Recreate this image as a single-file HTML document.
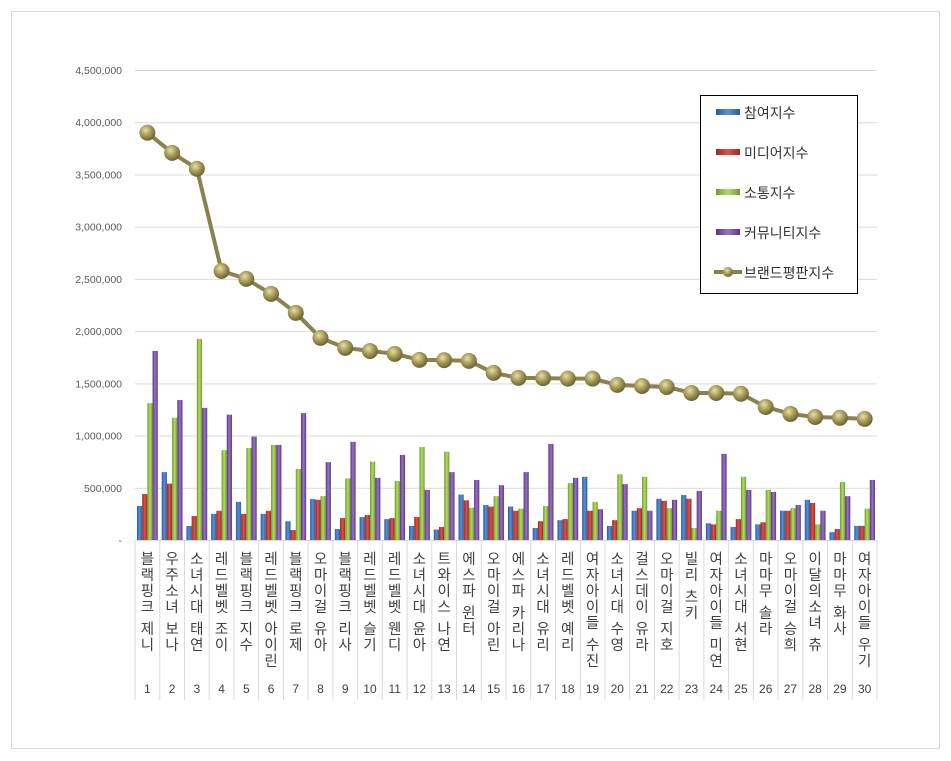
<!DOCTYPE html>
<html><head><meta charset="utf-8"><style>
body{margin:0;background:#fff;}
svg{display:block;font-family:"Liberation Sans","Noto Sans CJK KR",sans-serif;}
</style></head><body>
<svg id="chart" width="951" height="761">
<defs>
<radialGradient id="mk" cx="40%" cy="35%" r="65%"><stop offset="0" stop-color="#e6dfa8"/><stop offset="0.5" stop-color="#a89e5c"/><stop offset="1" stop-color="#6b6335"/></radialGradient>
<linearGradient id="gb" x1="0" x2="1"><stop offset="0" stop-color="#2b5b9c"/><stop offset=".5" stop-color="#5b8fd3"/><stop offset="1" stop-color="#2b5b9c"/></linearGradient>
<linearGradient id="gr" x1="0" x2="1"><stop offset="0" stop-color="#9c2a24"/><stop offset=".5" stop-color="#d9534c"/><stop offset="1" stop-color="#9c2a24"/></linearGradient>
<linearGradient id="gg" x1="0" x2="1"><stop offset="0" stop-color="#6c9a2c"/><stop offset=".5" stop-color="#b4dc64"/><stop offset="1" stop-color="#6c9a2c"/></linearGradient>
<linearGradient id="gp" x1="0" x2="1"><stop offset="0" stop-color="#593880"/><stop offset=".5" stop-color="#9a72c4"/><stop offset="1" stop-color="#593880"/></linearGradient>
</defs>
<rect x="11.5" y="11.5" width="928" height="737" fill="#fff" stroke="#d9d9d9"/>
<g id="grid"></g><g id="bars"></g><g id="line"></g><g id="xlab"></g>
<g>
<rect x="700.5" y="95.5" width="157" height="198" fill="#fff" stroke="#000"/>
<rect x="716" y="109" width="24" height="6" fill="url(#gb)"/><text x="744" y="118" font-size="14" fill="#333">참여지수</text>
<rect x="716" y="149" width="24" height="6" fill="url(#gr)"/><text x="744" y="158" font-size="14" fill="#333">미디어지수</text>
<rect x="716" y="189" width="24" height="6" fill="url(#gg)"/><text x="744" y="198" font-size="14" fill="#333">소통지수</text>
<rect x="716" y="229" width="24" height="6" fill="url(#gp)"/><text x="744" y="238" font-size="14" fill="#333">커뮤니티지수</text>
<line x1="714" y1="272" x2="742" y2="272" stroke="#8a8150" stroke-width="4"/><circle cx="728" cy="272" r="5" fill="url(#mk)"/><text x="744" y="278" font-size="14" fill="#333">브랜드평판지수</text>
</g>
</svg>
<script>
const categories=["블랙핑크 제니","우주소녀 보나","소녀시대 태연","레드벨벳 조이","블랙핑크 지수","레드벨벳 아이린","블랙핑크 로제","오마이걸 유아","블랙핑크 리사","레드벨벳 슬기","레드벨벳 웬디","소녀시대 윤아","트와이스 나연","에스파 윈터","오마이걸 아린","에스파 카리나","소녀시대 유리","레드벨벳 예리","여자아이들 수진","소녀시대 수영","걸스데이 유라","오마이걸 지호","빌리 츠키","여자아이들 미연","소녀시대 서현","마마무 솔라","오마이걸 승희","이달의소녀 츄","마마무 화사","여자아이들 우기"];
const participation=[326,650,134,250,365,250,180,393,105,220,200,135,100,435,335,320,115,190,605,135,280,395,430,160,125,150,280,385,75,135];
const media=[440,540,230,280,250,280,95,385,210,240,210,220,125,380,320,280,180,200,280,190,305,375,395,150,200,170,280,355,105,135];
const communication=[1310,1170,1925,860,880,910,680,420,590,750,565,890,845,310,420,300,325,545,365,630,605,305,115,280,605,480,305,150,555,300];
const community=[1810,1340,1265,1200,990,910,1215,745,940,595,815,480,650,575,525,650,920,595,295,535,280,385,470,825,480,460,335,280,420,575];
const brandIndex=[3900,3707,3555,2577,2500,2357,2175,1935,1840,1810,1782,1725,1722,1715,1600,1552,1550,1545,1545,1485,1475,1465,1408,1408,1400,1274,1207,1178,1170,1160];
const yTicks=[0,500,1000,1500,2000,2500,3000,3500,4000,4500];
const yTickLabels=["-","500,000","1,000,000","1,500,000","2,000,000","2,500,000","3,000,000","3,500,000","4,000,000","4,500,000"];

const NS="http://www.w3.org/2000/svg";
const X0=135,X1=877,Y0=540,Ymax=4500,YTop=70;
const bw=(X1-X0)/categories.length;
function y(v){return Y0-(v/Ymax)*(Y0-YTop);}
function xc(i){return X0+bw*(i+0.5);}
function mk(tag,attrs,parent){const e=document.createElementNS(NS,tag);for(const k in attrs)e.setAttribute(k,attrs[k]);parent.appendChild(e);return e;}
const grid=document.getElementById('grid');
yTicks.forEach((t,i)=>{
  if(t>0){const l=mk('line',{x1:X0,x2:X1,y1:y(t)+.5,y2:y(t)+.5,stroke:'#d9d9d9'},grid);
  
  }
  const tx=mk('text',{x:122,y:y(t)+4,'text-anchor':'end','font-size':'10.5',fill:'#595959'},grid);
  tx.textContent=yTickLabels[i];
  
  
});
const ax=mk('line',{x1:X0,x2:X1,y1:Y0+.5,y2:Y0+.5,stroke:'#d9d9d9'},grid);


const bars=document.getElementById('bars');
const series=[[participation,'url(#gb)','participation'],[media,'url(#gr)','media'],[communication,'url(#gg)','communication'],[community,'url(#gp)','community']];
const w=5.2;
categories.forEach((c,i)=>{
  series.forEach((s,j)=>{
    const v=s[0][i];const x=xc(i)-2*w+j*w;
    const r=mk('rect',{x:x,y:y(v),width:w,height:Y0-y(v),fill:s[1]},bars);
    
    
  });
});
const lg=document.getElementById('line');
const pts=brandIndex.map((v,i)=>xc(i)+','+y(v)).join(' ');
const pl=mk('polyline',{points:pts,fill:'none',stroke:'#8a8150','stroke-width':4,'stroke-linejoin':'round'},lg);


brandIndex.forEach((v,i)=>{
  const c=mk('circle',{cx:xc(i),cy:y(v),r:8,fill:'url(#mk)'},lg);
  
  
});
const xl=document.getElementById('xlab');
for(let i=0;i<=categories.length;i++){
  const l=mk('line',{x1:X0+bw*i,x2:X0+bw*i,y1:Y0,y2:700,stroke:'#d9d9d9'},xl);
  
  
}
categories.forEach((c,i)=>{
  const chars=[...c];let yy=564;
  const g=mk('g',{},xl);
  
  
  chars.forEach(ch=>{
    if(ch===' '){yy+=6;return;}
    const t=mk('text',{x:xc(i),y:yy,'text-anchor':'middle','font-size':'14.5',fill:'#404040'},g);
    t.textContent=ch;yy+=16;
  });
  const n=mk('text',{x:xc(i),y:693,'text-anchor':'middle','font-size':'12',fill:'#404040'},xl);
  n.textContent=String(i+1);
  
  
});
</script>
</body></html>
